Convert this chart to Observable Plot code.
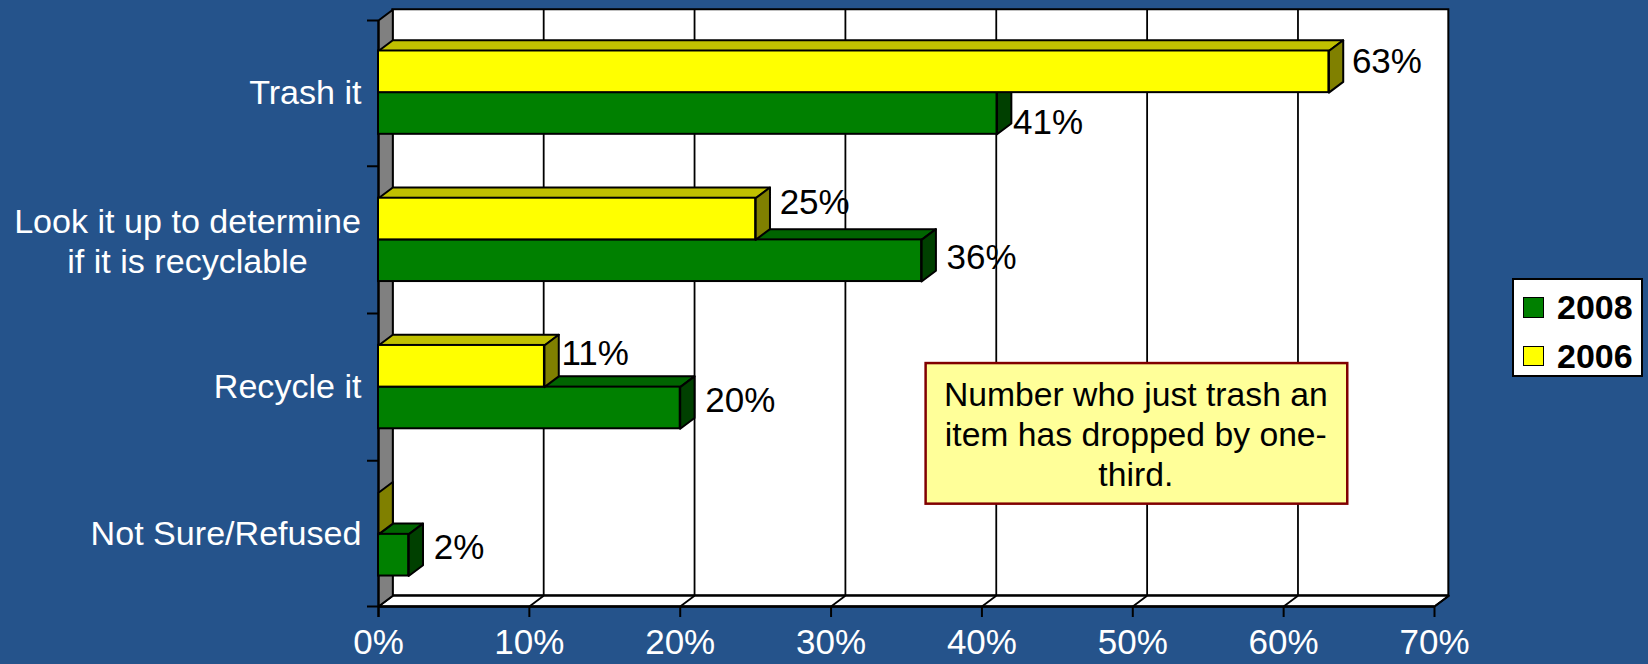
<!DOCTYPE html>
<html>
<head>
<meta charset="utf-8">
<script src="https://cdn.jsdelivr.net/npm/d3@7"></script>
<script src="https://cdn.jsdelivr.net/npm/@observablehq/plot@0.6"></script>
<style>
  html, body { margin: 0; padding: 0; background: #25538b; overflow: hidden; }
  body { position: relative; width: 1648px; height: 664px; font-family: "Liberation Sans", Arial, sans-serif; }
  #chart svg { display: block; }
  #legend {
    position: absolute; left: 1512px; top: 278px; width: 127px; height: 95px;
    background: #fff; border: 2px solid #000; color: #000;
    font-size: 34px; font-weight: bold; line-height: 35px;
  }
  #legend .row { position: absolute; left: 9px; height: 35px; white-space: nowrap; }
  #legend .key {
    position: absolute; left: 0; top: 7px; width: 18.5px; height: 18.5px; border: 1.5px solid #000;
  }
  #legend .name { position: absolute; left: 34px; top: 0; }
</style>
</head>
<body>
<div id="chart"></div>
<div id="legend"></div>
<script>
// Survey answers, top to bottom
const categories = ["Trash it", "Look it up to determine\nif it is recyclable", "Recycle it", "Not Sure/Refused"];
const values2008 = [41, 36, 20, 2];
const values2006 = [63, 25, 11, 0];
const percentTicks = [0, 10, 20, 30, 40, 50, 60, 70];
const noteText = "Number who just trash an\nitem has dropped by one-\nthird.";

// Pseudo-3D depth of the bars and walls, in data units
const depthX = 0.95;
const depthY = 0.073;
const barHalf = 0.283;
const yTop = -0.49;
const yBottom = 3.49;
const xMax = 70;

const palette = {
  2008: {front: "#008000", top: "#006400", side: "#004000"},
  2006: {front: "#ffff00", top: "#c0c000", side: "#808000"}
};
const fontSize = 35;
const categoryFontSize = 34.1;
const line = {stroke: "#000", strokeWidth: 2};

// Hand-placed value labels: pixel nudges from each bar's end
const nudges2008 = [[16, 9], [25, -3], [25, -7], [25, -7]];
const nudges2006 = [[23, -10], [24, -16], [17, -12], null];

// Closed outline helper for the Plot.line faces
const face = (pts, fill, opts = {}) =>
  Plot.line(pts, {x: "x", y: "y", z: "id", curve: "linear-closed", fill, ...line, ...opts});

const series = [
  {year: 2008, values: values2008, y1: i => i, y2: i => i + barHalf, nudges: nudges2008},
  {year: 2006, values: values2006, y1: i => i - barHalf, y2: i => i, nudges: nudges2006}
];

function topFaces(s) {
  return s.values.flatMap((v, i) => [
    {id: i, x: 0, y: s.y1(i)}, {id: i, x: depthX, y: s.y1(i) - depthY},
    {id: i, x: v + depthX, y: s.y1(i) - depthY}, {id: i, x: v, y: s.y1(i)}
  ]);
}
function sideFaces(s) {
  return s.values.flatMap((v, i) => [
    {id: i, x: v, y: s.y1(i)}, {id: i, x: v + depthX, y: s.y1(i) - depthY},
    {id: i, x: v + depthX, y: s.y2(i) - depthY}, {id: i, x: v, y: s.y2(i)}
  ]);
}

function barMarks(s) {
  const colors = palette[s.year];
  const fronts = s.values.map((v, i) => ({v, i})).filter(d => d.v > 0);
  return [
    face(topFaces(s).filter(p => s.values[p.id] > 0), colors.top),
    face(sideFaces(s), colors.side),
    Plot.rect(fronts, {x1: 0, x2: "v", y1: d => s.y1(d.i), y2: d => s.y2(d.i), fill: colors.front, ...line})
  ];
}

function valueLabels(s) {
  return s.values.flatMap((v, i) => {
    const n = s.nudges[i];
    if (!n) return [];
    return [Plot.text([{v, i}], {
      x: "v", y: d => (s.y1(d.i) + s.y2(d.i)) / 2, text: d => `${d.v}%`,
      textAnchor: "start", dx: n[0], dy: n[1], fontSize, fill: "#000"
    })];
  });
}

// Category labels: single lines sit flush against the wall, the two-line one is centred as a block
const singleLine = categories.map((c, i) => ({c, i})).filter(d => !d.c.includes("\n"));
const multiLine = categories.map((c, i) => ({c, i})).filter(d => d.c.includes("\n"));

const wall = [
  {id: 0, x: 0, y: yTop}, {id: 0, x: depthX, y: yTop - depthY},
  {id: 0, x: depthX, y: yBottom - depthY}, {id: 0, x: 0, y: yBottom}
];
const floor = [
  {id: 0, x: 0, y: yBottom}, {id: 0, x: depthX, y: yBottom - depthY},
  {id: 0, x: xMax + depthX, y: yBottom - depthY}, {id: 0, x: xMax, y: yBottom}
];

const chart = Plot.plot({
  width: 1648,
  height: 664,
  marginLeft: 378,
  marginRight: 214,
  marginTop: 20,
  marginBottom: 58,
  style: {background: "transparent", fontFamily: "'Liberation Sans', Arial, sans-serif", overflow: "visible"},
  x: {domain: [0, xMax]},
  y: {domain: [yTop, yBottom], range: [20, 606]},
  marks: [
    // back wall, floor and side wall
    Plot.rect([0], {x1: depthX, x2: xMax + depthX, y1: yTop - depthY, y2: yBottom - depthY, fill: "#fff", stroke: "#000", strokeWidth: 2}),
    face(floor, "#fff", {strokeWidth: 2}),
    face(wall, "#808080", {strokeWidth: 2}),
    Plot.ruleX(percentTicks.slice(1, -1), {x: d => d + depthX, y1: yTop - depthY, y2: yBottom - depthY, stroke: "#000", strokeWidth: 1.8}),
    Plot.link(percentTicks.slice(1), {x1: d => d, y1: yBottom, x2: d => d + depthX, y2: yBottom - depthY, stroke: "#000", strokeWidth: 1.8}),

    // axes
    Plot.axisX({
      ticks: percentTicks, tickFormat: d => `${d}%`, label: null, tickSize: 11, tickPadding: 12,
      fontSize, fill: "#fff", stroke: "#000", strokeWidth: 2
    }),
    Plot.axisY({
      ticks: [yTop, 0.5, 1.5, 2.5, yBottom], tickFormat: () => "", label: null, tickSize: 11,
      stroke: "#000", strokeWidth: 2
    }),
    Plot.ruleX([0], {y1: yTop, y2: yBottom + 0.075, stroke: "#000", strokeWidth: 2}),
    Plot.ruleY([yBottom], {x1: 0, x2: xMax, stroke: "#000", strokeWidth: 2.4}),

    Plot.text(singleLine, {x: 0, y: "i", text: "c", textAnchor: "end", dx: -17, fontSize: categoryFontSize, fill: "#fff"}),
    Plot.text(multiLine, {x: 0, y: "i", text: "c", textAnchor: "middle", dx: -191, fontSize: categoryFontSize, lineHeight: 1.17, fill: "#fff"}),

    // bars, 2008 underneath so the 2006 faces overlap its top edge
    ...series.flatMap(barMarks),
    ...series.flatMap(valueLabels),

    // call-out
    Plot.rect([0], {x1: 36.3, x2: 64.25, y1: 1.84, y2: 2.795, fill: "#ffff99", stroke: "#800000", strokeWidth: 2.5}),
    Plot.text([noteText], {x: 50.2, y: 2.312, text: d => d, fontSize: 33.7, lineHeight: 1.19, fill: "#000", textAnchor: "middle"})
  ]
});
document.getElementById("chart").append(chart);

// Legend, newest year first
const legend = d3.select("#legend");
[2008, 2006].forEach((year, i) => {
  const row = legend.append("div").attr("class", "row").style("top", `${10 + i * 48.5}px`);
  row.append("div").attr("class", "key").style("background", palette[year].front);
  row.append("div").attr("class", "name").text(year);
});
</script>
</body>
</html>
